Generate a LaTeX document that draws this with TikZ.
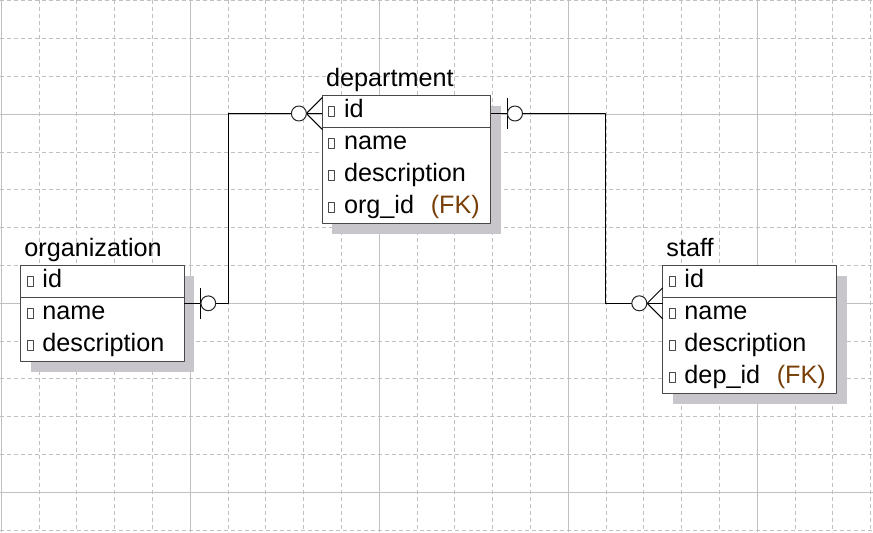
\documentclass[tikz,border=0pt]{standalone}
\usepackage{fontspec}
\setmainfont{Liberation Sans}
\usetikzlibrary{shadows}
\definecolor{gridc}{RGB}{192,192,192}
\definecolor{shadowc}{RGB}{200,198,202}
\definecolor{boxline}{RGB}{72,72,72}
\definecolor{fkc}{RGB}{120,64,8}
\tikzset{
  minor/.style={gridc,line width=0.75pt,dash pattern=on 3pt off 2.25pt},
  major/.style={gridc,line width=0.75pt},
  entity/.style={draw=boxline,fill=white,line width=0.75pt,inner sep=0pt,outer sep=0pt,anchor=north west,
    drop shadow={shadow xshift=7.5pt,shadow yshift=-7.5pt,fill=shadowc,opacity=1}},
  title/.style={inner sep=0pt,anchor=base west},
  field/.style={inner sep=0pt,anchor=base west},
  icon/.style={draw=boxline,fill=white,line width=0.75pt},
  link/.style={black,line width=0.75pt},
  knot/.style={draw=black!85,fill=white,line width=0.75pt}
}
\begin{document}
\begin{tikzpicture}[x=0.75pt,y=-0.75pt,line join=round,font=\fontsize{18.9}{22}\selectfont]
	\useasboundingbox (0,0) rectangle (873,532);
	\fill[white] (0,0) rectangle (873,532);
	% grid
	\foreach \k in {0,...,23} \draw[minor] ({1.3+37.8*\k},0) -- ++(0,532);
	\foreach \k in {0,...,14} \draw[minor] (0,{0.9+37.8*\k}) -- ++(873,0);
	\foreach \gx in {1.3,190.3,379.3,568.3,757.3} \draw[major] (\gx,0) -- ++(0,532);
	\foreach \gy in {114.3,303.3,492.3} \draw[major] (0,\gy) -- ++(873,0);
	% tables
	\node[entity,minimum width=122.7pt,minimum height=72pt] (org) at (20.7,265.7) {};
	\node[entity,minimum width=126.5pt,minimum height=96pt] (dept) at (322.3,95.7) {};
	\node[entity,minimum width=130.5pt,minimum height=96pt] (staff) at (662.7,265.7) {};
	\node[title] (org-t) at ([shift={(3.5,-9.5)}]org.north west) {organization};
	\node[title] (dept-t) at ([shift={(3.5,-9.5)}]dept.north west) {department};
	\node[title] (staff-t) at ([shift={(3.5,-9.5)}]staff.north west) {staff};
	\foreach \tab in {org,dept,staff}
		\draw[boxline,line width=0.75pt] ([shift={(0,31.6)}]\tab.north west) -- ([shift={(0,31.6)}]\tab.north east);
	\foreach \t [count=\r from 0] in {id,name,description}{
		\draw[icon] ([shift={(6.5,{11+32*\r})}]org.north west) rectangle ++(6,10);
		\node[field] (org-\r) at ([shift={(21.5,{22+32*\r})}]org.north west) {\t};
	}
	\foreach \t [count=\r from 0] in {id,name,description,{org\_id\hspace{12.5pt}\textcolor{fkc}{(FK)}}}{
		\draw[icon] ([shift={(6.5,{11+32*\r})}]dept.north west) rectangle ++(6,10);
		\node[field] (dept-\r) at ([shift={(21.5,{22+32*\r})}]dept.north west) {\t};
	}
	\foreach \t [count=\r from 0] in {id,name,description,{dep\_id\hspace{12.5pt}\textcolor{fkc}{(FK)}}}{
		\draw[icon] ([shift={(6.5,{11+32*\r})}]staff.north west) rectangle ++(6,10);
		\node[field] (staff-\r) at ([shift={(21.5,{22+32*\r})}]staff.north west) {\t};
	}
	% relations
	\coordinate (orgR) at ([shift={(0,37.6)}]org.north east);
	\coordinate (deptL) at ([shift={(0,17.8)}]dept.north west);
	\coordinate (deptR) at ([shift={(0,17.8)}]dept.north east);
	\coordinate (staffL) at ([shift={(0,37.6)}]staff.north west);
	\draw[link] (orgR) -- ++(44,0) |- (deptL);
	\draw[link] (deptR) -- ++(115,0) |- (staffL);
	\draw[link] ([shift={(16.4,-15.5)}]orgR) -- ++(0,31);
	\draw[link] ([shift={(16.3,-15.5)}]deptR) -- ++(0,31);
	\draw[link] ([shift={(0,-16)}]deptL) -- ([shift={(-16,0)}]deptL) -- ([shift={(0,16)}]deptL);
	\draw[link] ([shift={(0,-15.5)}]staffL) -- ([shift={(-15.5,0)}]staffL) -- ([shift={(0,15.5)}]staffL);
	\draw[knot] ([shift={(24,0)}]orgR) circle[radius=7.4];
	\draw[knot] ([shift={(24,0)}]deptR) circle[radius=7.5];
	\draw[knot] ([shift={(-23.4,0)}]deptL) circle[radius=7.5];
	\draw[knot] ([shift={(-23.4,0)}]staffL) circle[radius=7.5];
\end{tikzpicture}
\end{document}
